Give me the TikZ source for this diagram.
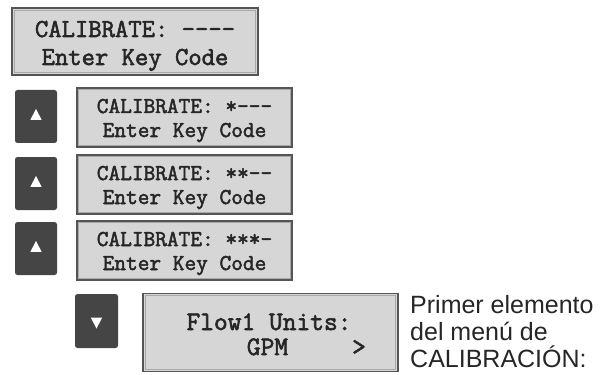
\documentclass[tikz,border=0pt]{standalone}
\usepackage{fontspec}
\setmainfont{Liberation Sans}
\newfontfamily\lcdfont{Latin Modern Mono}[FakeBold=2.2]
\usetikzlibrary{shapes.geometric}
\definecolor{lcdfill}{HTML}{D6D6D6}
\definecolor{lcdedge}{HTML}{555555}
\definecolor{lcdinner}{HTML}{A9A9A9}
\definecolor{btn}{HTML}{454545}
\definecolor{txt}{HTML}{262626}
\tikzset{
  lcd/.style={draw=lcdedge, line width=1.6pt, fill=lcdfill, inner sep=0pt},
  lcdin/.style={draw=lcdinner, line width=1pt},
  keybtn/.style={fill=btn, rounded corners=2.5pt, inner sep=0pt, minimum width=42pt, minimum height=53pt},
  tri/.style={isosceles triangle, isosceles triangle apex angle=55, fill=white, inner sep=0pt, minimum height=11pt, minimum width=10pt},
  bigtxt/.style={font=\lcdfont\bfseries\fontsize{25.9}{27}\selectfont, text=txt, anchor=base, inner sep=0pt},
  smalltxt/.style={font=\lcdfont\bfseries\fontsize{22.7}{24}\selectfont, text=txt, anchor=base, inner sep=0pt},
  midtxt/.style={font=\lcdfont\bfseries\fontsize{26.7}{28}\selectfont, text=txt, anchor=base, inner sep=0pt},
  note/.style={font=\fontsize{25}{27}\selectfont, text=txt, anchor=base west, inner sep=0pt},
}
\begin{document}
\begin{tikzpicture}[x=1pt,y=-1pt]
\useasboundingbox (0,0) rectangle (601,374);
% top display
\node[lcd, minimum width=246pt, minimum height=67pt] (d0) at (135,41.5) {};
\draw[lcdin] ([shift={(3,3)}]d0.north west) rectangle ([shift={(-3,-3)}]d0.south east);
\node[bigtxt] (d0a) at (135,37) {CALIBRATE: ----};
\node[bigtxt] (d0b) at (135,65) {Enter Key Code};
% row 1
\node[keybtn] (b1) at (36,116.5) {};
\node[tri, shape border rotate=90] (t1) at (b1.center) {};
\node[lcd, minimum width=215pt, minimum height=59pt] (d1) at (184.5,117.5) {};
\draw[lcdin] ([shift={(2.5,2.5)}]d1.north west) rectangle ([shift={(-2.5,-2.5)}]d1.south east);
\node[smalltxt] (d1a) at (184.5,113) {CALIBRATE: *---};
\node[smalltxt] (d1b) at (184.5,137) {Enter Key Code};
% row 2
\node[keybtn] (b2) at (36,183.5) {};
\node[tri, shape border rotate=90] (t2) at (b2.center) {};
\node[lcd, minimum width=215pt, minimum height=59pt] (d2) at (184.5,184.5) {};
\draw[lcdin] ([shift={(2.5,2.5)}]d2.north west) rectangle ([shift={(-2.5,-2.5)}]d2.south east);
\node[smalltxt] (d2a) at (184.5,180) {CALIBRATE: **--};
\node[smalltxt] (d2b) at (184.5,204) {Enter Key Code};
% row 3
\node[keybtn] (b3) at (36,248.5) {};
\node[tri, shape border rotate=90] (t3) at (b3.center) {};
\node[lcd, minimum width=215pt, minimum height=59pt] (d3) at (184.5,250.5) {};
\draw[lcdin] ([shift={(2.5,2.5)}]d3.north west) rectangle ([shift={(-2.5,-2.5)}]d3.south east);
\node[smalltxt] (d3a) at (184.5,246) {CALIBRATE: ***-};
\node[smalltxt] (d3b) at (184.5,270) {Enter Key Code};
% row 4
\node[keybtn, minimum width=43pt, minimum height=54pt] (b4) at (96.5,321) {};
\node[tri, shape border rotate=270] (t4) at (b4.center) {};
\node[lcd, minimum width=255pt, minimum height=78pt] (d4) at (270.5,332.5) {};
\draw[lcdin] ([shift={(3,3)}]d4.north west) rectangle ([shift={(-3,-3)}]d4.south east);
\node[midtxt] (d4a) at (269,330) {Flow1 Units:};
\node[midtxt] (d4b) at (267.5,355) {GPM};
\node[midtxt] (d4c) at (359,355) {>};
% note
\node[note] (n1) at (410,313) {Primer elemento};
\node[note] (n2) at (410,340) {del menú de};
\node[note] (n3) at (410,367) {CALIBRACIÓN:};
\end{tikzpicture}
\end{document}
